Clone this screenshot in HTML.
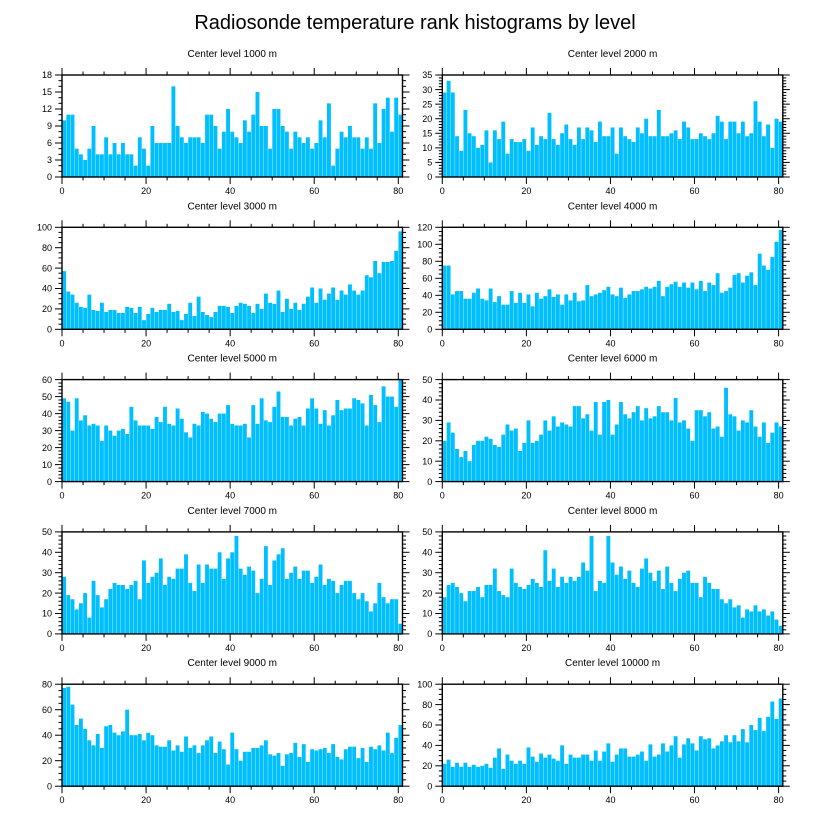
<!DOCTYPE html>
<html><head><meta charset="utf-8"><style>
html,body{margin:0;padding:0;background:#fff;}
svg{display:block;font-family:"Liberation Sans",sans-serif;}
</style></head><body>
<svg id="chart" width="822" height="824" viewBox="0 0 822 824">
<text x="415" y="29" font-size="20" text-anchor="middle" fill="#000">Radiosonde temperature rank histograms by level</text>
</svg>
<script>
const levels = [1000,2000,3000,4000,5000,6000,7000,8000,9000,10000];
const yMaxes = [18,35,100,120,60,50,50,50,80,100];
const yStepsMajor = [3,5,20,20,10,10,10,10,20,20];
const yMinorCounts = [3,5,4,4,5,5,5,5,4,4];
const xTicks = [0,20,40,60,80];
const c1000 = [10,11,11,5,4,3,5,9,4,4,7,4,6,4,6,4,4,2,7,5,2,9,6,6,6,6,16,9,7,6,7,7,7,6,11,11,9,5,8,12,8,7,6,10,8,11,15,9,9,5,12,12,9,8,5,8,7,6,7,5,6,10,7,13,2,5,8,7,9,7,7,5,7,5,13,6,12,14,8,14,11];
const c2000 = [29,33,29,14,9,23,15,14,10,11,16,5,16,13,19,8,13,12,12,13,9,17,11,14,13,22,13,11,15,18,13,11,17,13,17,16,12,19,14,14,17,8,17,14,13,12,17,15,20,14,14,23,14,14,15,16,13,19,17,13,13,15,14,13,15,21,19,13,19,19,15,19,14,15,26,19,14,18,10,20,19];
const c3000 = [57,37,34,26,22,21,34,19,18,26,17,19,19,16,16,22,21,16,22,9,15,21,17,19,19,25,17,18,9,15,26,13,32,17,14,12,17,23,23,22,16,23,26,25,23,16,25,20,35,26,25,38,17,30,20,26,19,25,32,41,26,40,29,35,41,29,38,34,44,38,34,38,53,51,67,55,66,66,67,77,96];
const c4000 = [75,75,41,45,45,36,36,43,48,36,34,48,32,39,29,29,45,31,43,31,41,27,43,36,39,47,38,41,29,41,34,43,33,34,52,39,41,43,46,50,41,39,49,37,41,45,45,47,50,48,50,57,39,50,53,56,50,55,49,55,47,57,45,55,52,66,43,45,49,64,66,55,63,67,52,89,75,70,85,103,117];
const c5000 = [49,47,30,49,36,39,33,34,33,24,33,30,27,30,31,28,44,36,33,33,33,31,38,35,44,34,33,43,37,29,26,34,33,41,40,37,35,40,40,45,34,33,33,34,26,45,34,49,36,35,44,53,38,38,33,37,38,33,43,49,43,34,42,33,39,48,42,43,43,49,48,46,33,51,45,35,56,50,50,44,60];
const c6000 = [20,29,24,16,12,15,10,18,20,20,22,21,18,17,23,28,25,26,15,19,30,19,20,23,30,25,32,27,29,28,27,37,37,31,33,25,39,23,39,40,23,28,39,33,31,34,37,30,36,31,32,37,34,34,30,41,29,30,26,20,35,35,32,34,26,27,22,46,33,32,25,30,29,35,27,22,29,19,24,29,27];
const c7000 = [28,19,17,12,15,20,8,26,19,13,17,22,25,24,24,22,24,26,17,36,25,28,30,37,24,28,27,32,32,39,25,21,34,25,34,32,32,40,27,37,40,48,32,29,33,31,20,27,43,24,36,39,42,27,30,33,27,31,31,25,28,34,24,27,26,20,24,26,26,20,17,20,16,11,15,25,18,15,17,17,5];
const c8000 = [18,24,25,23,20,16,21,21,23,18,24,24,32,21,19,18,32,25,23,22,24,27,25,23,41,26,32,23,28,25,28,26,28,35,31,48,21,26,25,48,35,29,33,27,31,25,23,32,37,30,26,31,22,33,25,21,27,30,31,25,25,18,28,25,22,22,17,15,17,13,14,8,12,11,14,11,12,9,11,7,4];
const c9000 = [77,78,64,48,53,45,36,32,41,30,47,48,42,40,43,60,40,40,41,36,42,40,32,31,31,36,28,32,27,39,30,32,26,32,36,39,26,35,29,17,42,29,20,27,27,30,30,32,36,25,24,26,16,25,26,34,23,33,19,29,28,29,30,26,33,23,21,29,31,31,22,30,19,31,29,32,28,42,26,38,48];
const c10000 = [22,26,19,23,19,23,19,21,19,20,22,18,28,37,17,31,25,22,25,22,38,29,24,32,28,31,27,25,40,22,31,28,28,31,31,25,35,25,34,42,24,31,37,37,29,29,31,34,25,41,29,31,42,34,40,49,28,41,47,42,35,49,46,47,37,40,44,50,43,50,44,56,43,60,55,67,54,68,83,66,86];
const seriesList = [c1000,c2000,c3000,c4000,c5000,c6000,c7000,c8000,c9000,c10000];

const NS = 'http://www.w3.org/2000/svg';
const svg = document.getElementById('chart');
function mk(tag, attrs, parent){
  const e = document.createElementNS(NS, tag);
  for (const k in attrs) e.setAttribute(k, attrs[k]);
  parent.appendChild(e);
  return e;
}
const XMAX = 81;
const PW = 340.5, PH = 102;
const lefts = [62, 442.3];
for (let p = 0; p < 10; p++) {
  const col = p % 2, row = Math.floor(p / 2);
  const x0 = lefts[col], y0 = 75 + row * 152.3;
  const data = seriesList[p], ymax = yMaxes[p];
  const xs = v => x0 + v / XMAX * PW;
  const ys = v => y0 + PH - v / ymax * PH;
  const g = mk('g', {}, svg);
  
  
  const t = mk('text', {x: x0 + PW / 2, y: y0 - 18, 'font-size': 10, 'text-anchor': 'middle', fill: '#000'}, g);
  t.textContent = 'Center level ' + levels[p] + ' m';
  
  
  data.forEach((v, i) => {
    const r = mk('rect', {x: xs(i + 0.04), y: ys(v), width: xs(0.92) - x0, height: ys(0) - ys(v), fill: '#00BFFF'}, g);
    
    
  });
  for (let v = 0; v <= XMAX; v += 5) {
    const major = v % 20 === 0, L = major ? 7 : 3.5;
    mk('line', {x1: xs(v), x2: xs(v), y1: y0, y2: y0 - L, stroke: '#000', 'stroke-width': 1}, g);
    mk('line', {x1: xs(v), x2: xs(v), y1: y0 + PH, y2: y0 + PH + L, stroke: '#000', 'stroke-width': 1}, g);
  }
  xTicks.forEach(v => {
    const tl = mk('text', {x: xs(v), y: y0 + PH + 17, 'font-size': 9, 'text-anchor': 'middle', fill: '#000'}, g);
    tl.textContent = v;
    
    
  });
  const step = yStepsMajor[p], mc = yMinorCounts[p], ms = step / mc;
  for (let k = 0; k * ms <= ymax + 1e-9; k++) {
    const v = k * ms, major = k % mc === 0, L = major ? 7 : 3.5;
    mk('line', {x1: x0, x2: x0 - L, y1: ys(v), y2: ys(v), stroke: '#000', 'stroke-width': 1}, g);
    mk('line', {x1: x0 + PW, x2: x0 + PW + L, y1: ys(v), y2: ys(v), stroke: '#000', 'stroke-width': 1}, g);
    if (major) {
      const yl = mk('text', {x: x0 - 10, y: ys(v) + 3.2, 'font-size': 9, 'text-anchor': 'end', fill: '#000'}, g);
      yl.textContent = Math.round(v);
      
      
    }
  }
  const f = mk('rect', {x: x0, y: y0, width: PW, height: PH, fill: 'none', stroke: '#000', 'stroke-width': 1.4}, g);
  
  
}
</script>
</body></html>
